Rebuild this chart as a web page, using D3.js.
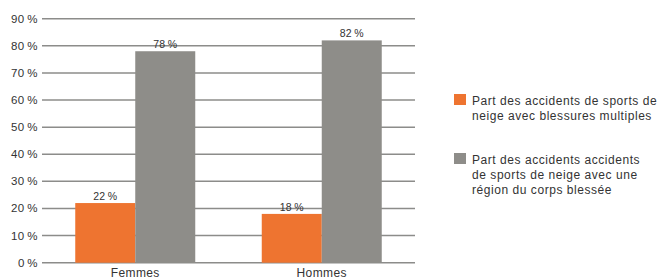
<!DOCTYPE html>
<html>
  <head>
    <meta charset="utf-8">
    <title>Accidents de sports de neige</title>
    <script src="https://cdn.jsdelivr.net/npm/d3@7"></script>
    <style>
      body { margin: 0; background: #fff; }
      svg { font-family: "Liberation Sans", Arial, Helvetica, sans-serif; }
    </style>
  </head>

  <body>
    <svg id="chart" width="664" height="280"></svg>

    <script>
      // data
      const groups = ["Femmes", "Hommes"];
      const series = ["multiple", "single"];
      const multiple = [22, 18];
      const single = [78, 82];
      const yTicks = [0, 10, 20, 30, 40, 50, 60, 70, 80, 90];
      const legendLabels = [
        ["Part des accidents de sports de", "neige avec blessures multiples"],
        ["Part des accidents accidents", "de sports de neige avec une", "région du corps blessée"]
      ];
      const colours = ["#ee7430", "#8e8d89"];

      const svg = d3.select("#chart");

      // scales
      const x = d3.scaleBand()
        .domain(groups)
        .range([42, 415]);
      const xInner = d3.scaleBand()
        .domain(series)
        .range([x.bandwidth() / 2 - 60, x.bandwidth() / 2 + 60]);
      const y = d3.scaleLinear()
        .domain([0, 90])
        .range([262.7, 18.7]);

      // grid lines
      svg.append("g")
        .selectAll("line")
        .data(yTicks)
        .join("line")
          .attr("x1", 42)
          .attr("x2", 415)
          .attr("y1", d => y(d))
          .attr("y2", d => y(d))
          .style("stroke", "#8c8c8a")
          .style("stroke-width", 1.5);

      // y axis labels
      svg.append("g")
        .selectAll("text")
        .data(yTicks)
        .join("text")
          .attr("x", 38)
          .attr("y", d => y(d) + 4)
          .attr("text-anchor", "end")
          .style("font-size", "11.5px")
          .style("letter-spacing", "0.4px")
          .style("fill", "#333")
          .text(d => d + "\u2009%");

      // bars
      const rows = groups.map((g, i) => ({ group: g, values: [multiple[i], single[i]] }));
      const bar = svg.append("g")
        .selectAll("g")
        .data(rows)
        .join("g")
          .attr("transform", d => "translate(" + x(d.group) + ",0)");

      bar.selectAll("rect")
        .data(d => d.values.map((v, j) => ({ key: series[j], value: v, j: j })))
        .join("rect")
          .attr("x", d => xInner(d.key))
          .attr("width", xInner.bandwidth())
          .attr("y", d => y(d.value))
          .attr("height", d => y(0) - y(d.value))
          .style("fill", d => colours[d.j]);

      bar.selectAll("text")
        .data(d => d.values.map((v, j) => ({ key: series[j], value: v })))
        .join("text")
          .attr("x", d => xInner(d.key) + xInner.bandwidth() / 2)
          .attr("y", d => y(d.value) - 3)
          .attr("text-anchor", "middle")
          .style("font-size", "10.5px")
          .style("letter-spacing", "0.2px")
          .style("fill", "#333")
          .text(d => d.value + "\u2009%");

      // category labels
      svg.append("g")
        .selectAll("text")
        .data(groups)
        .join("text")
          .attr("x", d => x(d) + x.bandwidth() / 2)
          .attr("y", 277)
          .attr("text-anchor", "middle")
          .style("font-size", "12px")
          .style("letter-spacing", "0.4px")
          .style("fill", "#333")
          .text(d => d);

      // legend
      const legendTop = [94, 153];
      const legend = svg.append("g")
        .selectAll("g")
        .data(legendLabels)
        .join("g")
          .attr("transform", (d, i) => "translate(454," + legendTop[i] + ")");

      legend.append("rect")
        .attr("width", 12)
        .attr("height", 11)
        .style("fill", (d, i) => colours[i]);

      legend.append("text")
        .style("font-size", "12px")
        .style("letter-spacing", "0.55px")
        .style("fill", "#333")
        .selectAll("tspan")
        .data(d => d)
        .join("tspan")
          .attr("x", 18)
          .attr("y", (d, i) => 11 + i * 15)
          .text(d => d);
    </script>
  </body>
</html>
